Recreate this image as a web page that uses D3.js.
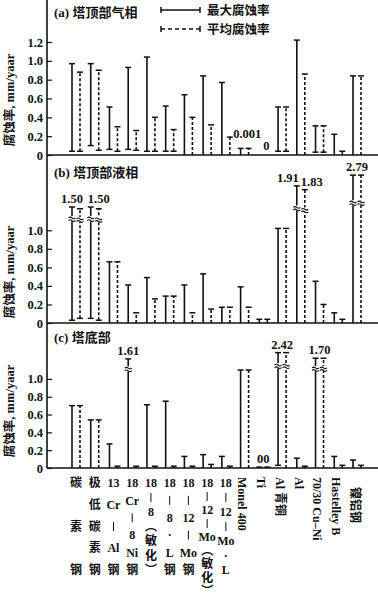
<!DOCTYPE html>
<html>
<head>
<meta charset="utf-8">
<script src="https://cdn.jsdelivr.net/npm/d3@7"></script>
<style>
  body { margin: 0; background: #fff; }
  text { font-family: "Liberation Serif", "Noto Sans CJK SC", serif; font-weight: bold; fill: #111; }
</style>
</head>
<body>
<svg id="chart"></svg>
<script>
// Categories (materials) and their stacked / rotated labels
const categories = ["碳素钢", "极低碳素钢", "13Cr-Al钢", "18Cr-8Ni钢", "18-8(敏化)", "18-8·L钢",
  "18-12-Mo钢", "18-12-Mo(敏化)", "18-12-Mo·L", "Monel 400", "Ti", "Al青铜", "Al",
  "70/30 Cu-Ni", "Hastelley B", "镍铝钢"];
const catLabels = [
  ["碳", "素", "钢"],
  ["极", "低", "碳", "素", "钢"],
  ["13", "Cr", "|", "Al", "钢"],
  ["18", "Cr", "|", "8", "Ni", "钢"],
  ["18", "|", "8", "︵", "敏", "化", "︶"],
  ["18", "|", "8", "·", "L", "钢"],
  ["18", "|", "12", "|", "Mo", "钢"],
  ["18", "|", "12", "|", "Mo", "︵", "敏", "化", "︶"],
  ["18", "|", "12", "|", "Mo", "·", "L"],
  "Monel 400", "Ti", "Al 青铜", "Al", "70/30 Cu–Ni", "Hastelley B", "镍铝钢"
];
const panelTitles = ["(a) 塔顶部气相", "(b) 塔顶部液相", "(c) 塔底部"];
const legendLabels = ["最大腐蚀率", "平均腐蚀率"];
const yTitle = "腐蚀率, mm/yaar";
const ticksA = [0, 0.2, 0.4, 0.6, 0.8, 1.0, 1.2];
const ticksBC = [0, 0.2, 0.4, 0.6, 0.8, 1.0];

// [low, high] corrosion rate, mm/year
const maxA = [[0.04, 0.97], [0.10, 0.97], [0.06, 0.51], [0.06, 0.93], [0.04, 1.04], [0.04, 0.52], [0, 0.64], [0, 0.84],
  [0, 0.77], [0, 0.07], null, [0.04, 0.51], [0, 1.22], [0.03, 0.31], [0, 0.22], [0, 0.84]];
const avgA = [[0.04, 0.88], [0.05, 0.90], [0.04, 0.30], [0.05, 0.26], [0.04, 0.40], [0.04, 0.27], [0, 0.40], [0, 0.32],
  [0, 0.19], [0, 0.07], null, [0.04, 0.51], [0, 0.86], [0.03, 0.31], [0, 0.04], [0, 0.84]];
const maxB = [[0.03, 1.50], [0.05, 1.50], [0, 0.66], [0, 0.41], [0, 0.49], [0, 0.29], [0, 0.41], [0, 0.53],
  [0, 0.17], [0, 0.39], [0, 0.04], [0, 1.02], [0, 1.91], [0, 0.45], [0, 0.11], [0, 2.79]];
const avgB = [[0.05, 1.45], [0.03, 1.45], [0, 0.66], [0, 0.11], [0, 0.26], [0, 0.29], [0, 0.11], [0, 0.15],
  [0, 0.17], [0, 0.17], [0, 0.04], [0, 1.02], [0, 1.83], [0, 0.20], [0, 0.04], [0, 2.79]];
const maxC = [[0, 0.70], [0, 0.54], [0, 0.27], [0, 1.61], [0, 0.71], [0, 0.75], [0, 0.13], [0, 0.15],
  [0, 0.13], [0, 1.10], [0, 0.01], [0.03, 2.42], [0, 0.11], [0, 1.70], [0, 0.13], [0, 0.09]];
const avgC = [[0, 0.70], [0, 0.54], [0, 0.02], [0, 0.02], [0, 0.02], [0, 0.02], [0, 0.02], [0, 0.04],
  [0, 0.02], [0, 1.10], [0, 0.01], [0, 2.42], [0, 0.02], [0, 1.70], [0, 0.03], [0, 0.03]];

// Value notes written above bars
const notesA = [{ cat: 10, series: "max", v: 0.14, text: "0.001" }, { cat: 10, series: "avg", v: 0.01, text: "0" }];
const notesB = [{ cat: 0, series: "max", v: 1.50, text: "1.50" }, { cat: 1, series: "avg", v: 1.50, text: "1.50" },
  { cat: 12, series: "max", v: 1.91, text: "1.91" }, { cat: 12, series: "avg", v: 1.83, text: "1.83" },
  { cat: 15, series: "both", v: 2.79, text: "2.79" }];
const notesC = [{ cat: 3, series: "max", v: 1.61, text: "1.61" }, { cat: 10, series: "both", v: 0.01, text: "00" },
  { cat: 11, series: "both", v: 2.42, text: "2.42" }, { cat: 13, series: "both", v: 1.70, text: "1.70" }];

const W = 378, H = 600;
const axisX = 47, rightX = 378;
const breakAt = 1.1;
const off = 4, cap = 3;

const svg = d3.select("#chart").attr("width", W).attr("height", H);
const x = d3.scalePoint().domain(categories).range([76, 357]);

// Broken y scales: linear up to the break, compressed above it
const panels = [
  { title: panelTitles[0], max: maxA, avg: avgA, notes: notesA, ticks: ticksA, titleY: 17, yTitleY: 100,
    y: d3.scaleLinear().domain([0, 1.2]).range([155, 42]) },
  { title: panelTitles[1], max: maxB, avg: avgB, notes: notesB, ticks: ticksBC, titleY: 177, yTitleY: 272,
    y: d3.scaleLinear().domain([0, 1.1, 1.5, 1.9, 2.8]).range([323, 221, 207, 186, 175]) },
  { title: panelTitles[2], max: maxC, avg: avgC, notes: notesC, ticks: ticksBC, titleY: 342, yTitleY: 411,
    y: d3.scaleLinear().domain([0, 1.1, 1.6, 2.5]).range([468, 370, 359, 352]) }
];

// Shared vertical axis line
svg.append("line")
  .attr("x1", axisX).attr("x2", axisX).attr("y1", 0).attr("y2", panels[2].y(0))
  .attr("stroke", "#111").attr("stroke-width", 1.6);

function drawPanel(p, pi) {
  const g = svg.append("g");
  const y = p.y;

  // Baseline
  g.append("line")
    .attr("x1", axisX).attr("x2", rightX).attr("y1", y(0)).attr("y2", y(0))
    .attr("stroke", "#111").attr("stroke-width", 1.6);

  // Y axis ticks and labels
  const ax = g.append("g")
    .attr("transform", `translate(${axisX},0)`)
    .call(d3.axisLeft(y).tickValues(p.ticks).tickSize(-5).tickPadding(4)
      .tickFormat(d => d === 0 ? "0" : d3.format(".1f")(d)));
  ax.select(".domain").remove();
  ax.selectAll(".tick line").attr("stroke", "#111").attr("stroke-width", 1.2);
  ax.selectAll(".tick text").attr("font-size", 12.5).attr("fill", "#111").style("font-family", null);

  // Title
  g.append("text").attr("x", 54).attr("y", p.titleY).attr("font-size", 13).text(p.title);

  // Y axis title
  g.append("text")
    .attr("transform", `translate(14,${p.yTitleY}) rotate(-90)`)
    .attr("text-anchor", "middle")
    .attr("font-size", 12.5)
    .text(yTitle);

  // Range bars
  const series = [
    { data: p.max, dx: -off, dash: null },
    { data: p.avg, dx: off, dash: "3,2" }
  ];
  series.forEach(s => {
    const items = s.data.map((d, i) => ({ d, i })).filter(e => e.d);
    const bg = g.append("g").attr("stroke", "#111");
    items.forEach(e => {
      const bx = x(categories[e.i]) + s.dx;
      const [lo, hi] = e.d;
      bg.append("line")
        .attr("x1", bx).attr("x2", bx).attr("y1", y(lo)).attr("y2", y(hi))
        .attr("stroke-width", 1.6)
        .attr("stroke-dasharray", s.dash);
      bg.append("line")
        .attr("x1", bx - cap).attr("x2", bx + cap).attr("y1", y(hi)).attr("y2", y(hi))
        .attr("stroke-width", 1.5);
      if (lo > 0) {
        bg.append("line")
          .attr("x1", bx - cap).attr("x2", bx + cap).attr("y1", y(lo)).attr("y2", y(lo))
          .attr("stroke-width", 1.5);
      }
      // Break mark on bars that pass the axis break
      if (hi > breakAt && pi > 0) {
        const yb = (y(1.0) + y(hi)) / 2;
        bg.append("rect")
          .attr("x", bx - 3.5).attr("y", yb - 2.5).attr("width", 7).attr("height", 5)
          .attr("fill", "#fff").attr("stroke", "none");
        [-1.3, 1.3].forEach(k => {
          bg.append("path")
            .attr("d", `M${bx - 3.5},${yb + k + 0.6} q1.75,-1.6 3.5,0 t3.5,0`)
            .attr("fill", "none").attr("stroke-width", 1.1);
        });
      }
    });
  });

  // Notes above bars
  p.notes.forEach(n => {
    const cx = x(categories[n.cat]);
    const sibling = p.notes.some(o => o !== n && o.cat === n.cat);
    let tx = cx, anchor = "middle";
    if (n.series === "max") {
      tx = cx - off;
      if (sibling) { tx = cx - off + 2; anchor = "end"; }
    } else if (n.series === "avg") {
      tx = cx + off;
      if (sibling) { tx = cx + off - 4; anchor = "start"; }
    }
    g.append("text")
      .attr("x", tx).attr("y", y(n.v) - 4)
      .attr("text-anchor", anchor)
      .attr("font-size", 12.5)
      .text(n.text);
  });
}

panels.forEach(drawPanel);

// Legend
const legend = svg.append("g").attr("stroke", "#111");
[{ y: 10, dash: null }, { y: 29, dash: "4,3" }].forEach((l, i) => {
  legend.append("line").attr("x1", 161).attr("x2", 200).attr("y1", l.y).attr("y2", l.y)
    .attr("stroke-width", 1.5).attr("stroke-dasharray", l.dash);
  [161, 200].forEach(px => legend.append("line")
    .attr("x1", px).attr("x2", px).attr("y1", l.y - 3).attr("y2", l.y + 3).attr("stroke-width", 1.5));
  svg.append("text").attr("x", 207).attr("y", l.y + 5).attr("font-size", 12.5).text(legendLabels[i]);
});

// Category labels
const labG = svg.append("g");
catLabels.forEach((lab, i) => {
  const cx = x(categories[i]);
  if (Array.isArray(lab)) {
    const n = lab.length;
    const step = Math.max(87 / (n - 1), 13.5);
    lab.forEach((tok, k) => {
      const ty = 483 + k * step;
      if (tok === "|") {
        labG.append("line")
          .attr("x1", cx).attr("x2", cx).attr("y1", ty - 4.5).attr("y2", ty + 4.5)
          .attr("stroke", "#111").attr("stroke-width", 1);
      } else {
        labG.append("text")
          .attr("x", cx).attr("y", ty)
          .attr("dy", "0.35em")
          .attr("text-anchor", "middle")
          .attr("font-size", 12)
          .text(tok);
      }
    });
  } else {
    labG.append("text")
      .attr("transform", `translate(${cx - 2},${i === categories.length - 1 ? 487 : 477}) rotate(90)`)
      .attr("dy", "0.35em")
      .attr("font-size", 12)
      .text(lab);
  }
});
</script>
</body>
</html>
